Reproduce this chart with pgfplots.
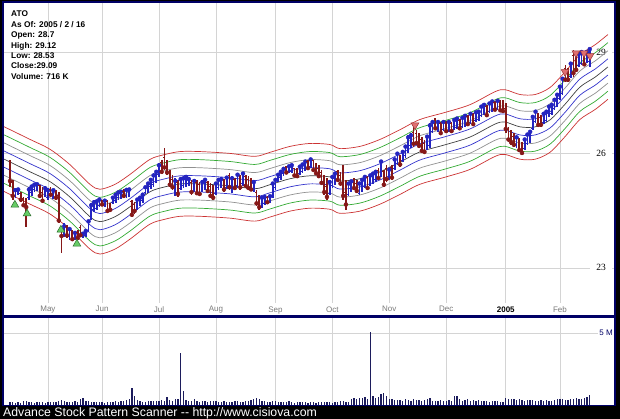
\documentclass[border=0pt]{standalone}
\usepackage{pgfplots}
\pgfplotsset{compat=1.18}
\usepackage{pgfplotstable}
\usepackage{fontspec}
\setmainfont{Liberation Sans}
\newfontfamily\tickserif{Liberation Serif}
\definecolor{navy}{HTML}{000066}
\definecolor{volc}{HTML}{1C1C5C}
\definecolor{upc}{HTML}{2424C0}
\definecolor{dnc}{HTML}{861818}
\definecolor{gridc}{HTML}{D4D4D4}
\definecolor{monthc}{HTML}{7A7A7A}
\definecolor{bandred}{HTML}{CC3333}
\definecolor{bandgreen}{HTML}{33AA33}
\definecolor{bandgray}{HTML}{909090}
\definecolor{bandblue}{HTML}{3333CC}
\definecolor{bandblack}{HTML}{404040}
\definecolor{buyfill}{HTML}{66CC66}
\definecolor{buydraw}{HTML}{2E6E2E}
\definecolor{sellfill}{HTML}{E07070}
\definecolor{selldraw}{HTML}{993333}
\pgfdeclareplotmark{otick}{\pgfpathmoveto{\pgfqpoint{-\pgfplotmarksize}{0pt}}\pgfpathlineto{\pgfqpoint{0pt}{0pt}}\pgfusepathqstroke}
\pgfdeclareplotmark{ctick}{\pgfpathmoveto{\pgfqpoint{0pt}{0pt}}\pgfpathlineto{\pgfqpoint{\pgfplotmarksize}{0pt}}\pgfusepathqstroke}

\pgfplotstableread{
i o h l c
0 25.70 25.83 25.10 25.25
1 25.20 25.28 24.74 24.85
2 24.85 25.06 24.79 25.00
3 24.92 25.06 24.87 25.02
4 24.92 24.96 24.69 24.75
5 24.78 24.82 24.56 24.60
6 24.70 24.80 24.04 24.55
7 24.80 25.09 24.74 25.02
8 24.95 25.15 24.85 25.10
9 25.02 25.20 24.96 25.15
10 25.05 25.20 24.98 25.16
11 25.12 25.15 24.79 24.85
12 24.95 25.09 24.66 24.72
13 24.88 25.12 24.82 25.05
14 24.80 25.06 24.74 25.00
15 25.02 25.09 24.82 24.88
16 24.85 25.04 24.77 25.00
17 24.96 25.01 24.74 24.80
18 24.85 24.96 24.14 24.20
19 24.00 24.04 23.38 23.80
20 23.82 24.14 23.78 24.05
21 24.05 24.09 23.75 23.82
22 23.78 24.04 23.70 23.98
23 23.92 23.96 23.68 23.72
24 23.74 23.93 23.70 23.88
25 23.90 23.96 23.70 23.75
26 24.02 24.09 23.78 23.82
27 23.78 23.88 23.75 23.86
28 23.82 23.96 23.78 23.93
29 23.95 24.22 23.91 24.18
30 24.25 24.66 24.22 24.60
31 24.50 24.74 24.43 24.68
32 24.52 24.74 24.48 24.70
33 24.60 24.79 24.56 24.75
34 24.72 24.74 24.58 24.62
35 24.60 24.77 24.56 24.72
36 24.70 24.74 24.40 24.45
37 24.60 24.66 24.43 24.48
38 24.68 24.85 24.64 24.80
39 24.72 24.93 24.66 24.88
40 24.80 24.98 24.74 24.94
41 24.85 25.01 24.77 24.96
42 24.98 25.04 24.79 24.85
43 24.86 25.06 24.79 25.01
44 24.90 25.06 24.82 25.02
45 24.70 24.74 24.30 24.35
46 24.62 24.69 24.38 24.45
47 24.52 24.79 24.48 24.75
48 24.65 24.85 24.58 24.80
49 24.72 24.93 24.66 24.88
50 24.95 25.12 24.90 25.08
51 25.00 25.23 24.93 25.18
52 25.10 25.33 25.04 25.28
53 25.15 25.47 25.09 25.40
54 25.28 25.55 25.20 25.50
55 25.42 25.75 25.36 25.68
56 25.76 25.83 25.44 25.50
57 25.90 26.17 25.55 25.62
58 25.70 25.83 25.41 25.48
59 25.48 25.55 25.09 25.15
60 25.30 25.41 25.01 25.08
61 24.95 25.33 24.85 25.25
62 25.20 25.28 24.82 24.90
63 25.05 25.36 25.01 25.30
64 25.12 25.39 25.06 25.32
65 25.15 25.41 25.09 25.36
66 25.18 25.36 25.12 25.30
67 25.22 25.28 24.87 24.95
68 25.00 25.31 24.96 25.25
69 25.22 25.28 24.87 24.92
70 25.15 25.23 24.85 24.90
71 25.00 25.28 24.96 25.22
72 25.08 25.33 25.01 25.28
73 25.20 25.25 24.93 24.98
74 25.10 25.20 24.79 24.85
75 24.98 25.15 24.74 24.80
76 24.92 25.23 24.87 25.18
77 25.08 25.33 25.01 25.28
78 25.12 25.36 25.06 25.30
79 25.28 25.31 24.96 25.02
80 25.08 25.39 25.04 25.34
81 25.40 25.47 25.01 25.08
82 25.00 25.39 24.93 25.32
83 25.28 25.33 25.01 25.06
84 25.12 25.47 25.06 25.42
85 25.36 25.41 25.01 25.08
86 25.18 25.50 25.12 25.45
87 25.38 25.41 25.06 25.12
88 25.30 25.39 25.01 25.06
89 25.25 25.33 24.98 25.02
90 25.00 25.28 24.96 25.22
91 24.95 25.01 24.58 24.65
92 24.80 24.87 24.48 24.55
93 24.58 24.85 24.53 24.80
94 24.66 24.87 24.61 24.82
95 24.80 24.85 24.64 24.68
96 24.70 24.87 24.66 24.84
97 24.85 25.23 24.79 25.18
98 25.08 25.33 25.01 25.28
99 25.28 25.47 25.23 25.42
100 25.34 25.55 25.28 25.50
101 25.45 25.63 25.39 25.58
102 25.62 25.66 25.44 25.48
103 25.50 25.69 25.47 25.65
104 25.52 25.72 25.47 25.68
105 25.58 25.61 25.36 25.40
106 25.52 25.61 25.33 25.38
107 25.45 25.69 25.41 25.64
108 25.52 25.75 25.47 25.70
109 25.58 25.83 25.52 25.78
110 25.78 25.83 25.55 25.60
111 25.65 25.89 25.61 25.84
112 25.80 25.83 25.50 25.55
113 25.66 25.75 25.41 25.46
114 25.60 25.69 25.33 25.38
115 25.48 25.55 25.15 25.20
116 25.30 25.41 24.87 24.95
117 25.10 25.33 24.74 24.82
118 24.92 25.28 24.87 25.22
119 25.12 25.41 25.06 25.36
120 25.22 25.50 25.15 25.45
121 25.50 25.55 25.23 25.28
122 25.40 25.50 25.12 25.18
123 25.35 25.69 24.74 24.85
124 24.95 25.28 24.48 24.62
125 24.90 25.23 24.85 25.18
126 25.02 25.28 24.96 25.24
127 25.28 25.33 25.01 25.06
128 25.18 25.28 24.93 24.98
129 24.92 25.23 24.87 25.18
130 25.00 25.33 24.96 25.28
131 25.10 25.41 25.06 25.36
132 25.34 25.39 25.01 25.06
133 25.16 25.44 25.12 25.40
134 25.22 25.50 25.17 25.45
135 25.28 25.55 25.23 25.50
136 25.55 25.61 25.28 25.33
137 25.40 25.83 25.36 25.78
138 25.50 25.55 25.09 25.15
139 25.60 25.69 25.23 25.30
140 25.32 25.61 25.28 25.56
141 25.62 25.69 25.28 25.34
142 25.60 25.89 25.55 25.84
143 25.74 26.05 25.69 26.00
144 25.92 25.97 25.64 25.70
145 25.82 26.11 25.78 26.05
146 25.94 26.25 25.89 26.20
147 26.08 26.53 26.03 26.46
148 26.22 26.59 26.17 26.52
149 26.60 26.76 26.19 26.28
150 26.58 26.67 26.25 26.30
151 26.50 26.59 26.17 26.22
152 26.40 26.47 26.03 26.08
153 26.30 26.39 26.00 26.05
154 26.15 26.53 26.11 26.48
155 26.22 26.87 26.17 26.80
156 26.64 26.96 26.59 26.90
157 26.96 27.02 26.67 26.72
158 26.66 26.96 26.61 26.90
159 26.85 26.90 26.53 26.58
160 26.68 26.96 26.64 26.90
161 26.88 26.93 26.59 26.64
162 26.66 26.96 26.61 26.90
163 26.86 26.90 26.59 26.64
164 26.72 27.02 26.67 26.96
165 26.75 27.05 26.70 27.00
166 26.95 26.99 26.67 26.72
167 26.78 27.08 26.73 27.02
168 26.82 27.13 26.76 27.08
169 27.06 27.11 26.79 26.84
170 26.90 27.19 26.85 27.14
171 27.12 27.16 26.79 26.84
172 26.95 27.22 26.90 27.18
173 26.98 27.25 26.93 27.20
174 27.10 27.40 27.05 27.35
175 27.16 27.45 27.11 27.40
176 27.35 27.40 27.05 27.10
177 27.20 27.48 27.16 27.44
178 27.24 27.54 27.19 27.50
179 27.46 27.51 27.22 27.26
180 27.30 27.57 27.25 27.52
181 27.48 27.54 27.19 27.24
182 27.45 27.54 27.16 27.22
183 27.30 27.45 26.59 26.70
184 26.70 26.76 26.33 26.40
185 26.55 26.67 26.25 26.32
186 26.48 26.59 26.19 26.25
187 26.22 26.53 26.17 26.46
188 26.38 26.45 26.05 26.10
189 26.25 26.33 25.97 26.02
190 26.15 26.45 26.11 26.40
191 26.30 26.59 26.25 26.54
192 26.35 26.67 26.30 26.62
193 26.72 27.11 26.67 27.05
194 26.92 27.25 26.87 27.20
195 27.10 27.16 26.76 26.82
196 27.04 27.11 26.76 26.82
197 26.90 27.19 26.85 27.14
198 26.95 27.25 26.90 27.20
199 27.10 27.40 27.05 27.35
200 27.16 27.45 27.11 27.40
201 27.30 27.60 27.25 27.55
202 27.40 27.75 27.34 27.70
203 27.60 27.99 27.54 27.94
204 27.75 28.23 27.69 28.18
205 28.50 28.60 28.08 28.15
206 28.42 28.51 28.08 28.15
207 28.25 28.69 28.20 28.64
208 28.90 29.06 28.23 28.35
209 28.80 28.90 28.39 28.45
210 28.60 29.00 28.54 28.94
211 28.66 29.06 28.60 29.00
212 28.95 29.00 28.57 28.62
213 28.70 29.06 28.66 29.00
214 28.70 29.12 28.53 29.09
}\ohlc

\pgfplotstableread{
i m
-2.2 25.85
7.4 25.50
14.8 25.23
22.1 24.82
29.5 24.30
33.2 24.17
38.8 24.30
44.3 24.56
51.7 24.96
57.2 25.09
62.8 25.17
70.1 25.17
81.2 25.12
90.4 25.04
96.0 25.15
103.4 25.31
110.7 25.39
118.1 25.36
121.8 25.25
129.2 25.31
136.6 25.50
144.0 25.77
151.3 26.05
160.6 26.25
169.8 26.47
179.0 26.84
182.7 26.90
188.3 26.76
193.8 26.76
199.3 26.96
204.9 27.42
210.4 27.93
216.0 28.23
220.7 28.54
}\ma

\pgfplotstableread{
i v
0 0.18
1 0.22
2 0.15
3 0.20
4 0.17
5 0.25
6 0.30
7 0.20
8 0.18
9 0.16
10 0.20
11 0.22
12 0.19
13 0.17
14 0.21
15 0.20
16 0.18
17 0.24
18 0.30
19 0.35
20 0.28
21 0.22
22 0.20
23 0.18
24 0.25
25 0.23
26 0.45
27 0.50
28 0.30
29 0.25
30 0.20
31 0.18
32 0.20
33 0.22
34 0.20
35 0.17
36 0.19
37 0.23
38 0.20
39 0.25
40 0.22
41 0.28
42 0.30
43 0.35
44 0.40
45 1.15
46 0.63
47 0.32
48 0.30
49 0.22
50 0.20
51 0.25
52 0.28
53 0.30
54 0.26
55 0.30
56 0.35
57 0.30
58 0.56
59 0.38
60 0.30
61 0.45
62 0.40
63 3.60
64 1.00
65 0.35
66 0.30
67 0.30
68 0.45
69 0.25
70 0.22
71 0.30
72 0.28
73 0.20
74 0.25
75 0.30
76 0.28
77 0.22
78 0.20
79 0.25
80 0.18
81 0.22
82 0.20
83 0.25
84 0.28
85 0.20
86 0.22
87 0.30
88 0.25
89 0.35
90 0.45
91 0.50
92 0.40
93 0.30
94 0.25
95 0.22
96 0.20
97 0.28
98 0.25
99 0.20
100 0.18
101 0.22
102 0.20
103 0.25
104 0.18
105 0.15
106 0.20
107 0.22
108 0.18
109 0.20
110 0.15
111 0.18
112 0.20
113 0.15
114 0.20
115 0.18
116 0.22
117 0.20
118 0.18
119 0.15
120 0.20
121 0.22
122 0.25
123 0.30
124 0.20
125 0.18
126 0.45
127 0.50
128 0.45
129 0.48
130 0.50
131 0.55
132 0.45
133 5.05
134 0.60
135 0.50
136 0.55
137 0.75
138 0.85
139 0.60
140 0.45
141 0.40
142 0.35
143 0.38
144 0.35
145 0.30
146 0.42
147 0.35
148 0.30
149 0.40
150 0.35
151 0.38
152 0.30
153 0.35
154 0.45
155 0.50
156 0.30
157 0.25
158 0.28
159 0.32
160 0.30
161 0.28
162 0.35
163 0.30
164 0.62
165 0.60
166 0.45
167 0.30
168 0.35
169 0.40
170 0.30
171 0.32
172 0.28
173 0.35
174 0.30
175 0.25
176 0.28
177 0.22
178 0.25
179 0.30
180 0.28
181 0.22
182 0.20
183 0.48
184 0.45
185 0.42
186 0.40
187 0.35
188 0.45
189 0.38
190 0.30
191 0.35
192 0.32
193 0.38
194 0.30
195 0.28
196 0.35
197 0.30
198 0.32
199 0.28
200 0.30
201 0.35
202 0.40
203 0.45
204 0.42
205 0.38
206 0.35
207 0.40
208 0.45
209 0.48
210 0.42
211 0.45
212 0.50
213 0.55
214 0.72
}\vol

\pgfplotstableread{
i p
1.8 24.61
6.3 24.38
18.8 23.96
24.7 23.60
}\buys

\pgfplotstableread{
i p
149.5 26.81
204.9 28.39
208.9 28.97
211.9 28.97
214.1 28.88
}\sells

\pgfplotsset{
  upbar/.style={x filter/.expression={\thisrow{c}>=\thisrow{o} ? x : nan}},
  dnbar/.style={x filter/.expression={\thisrow{c}<\thisrow{o} ? x : nan}},
}

\begin{document}
\begin{tikzpicture}[x=1pt,y=1pt]
\useasboundingbox (0,0) rectangle (620,419);
\fill[black] (0,0) rectangle (620,419);
\fill[navy] (2,12.5) rectangle (616,418);
\fill[white] (4,104) rectangle (614,416);
\fill[white] (4,14) rectangle (614,101);

\begin{axis}[
  at={(4pt,116pt)}, anchor=south west, scale only axis,
  width=610pt, height=300pt,
  xmin=-2.215, xmax=222.96,
  ymode=log, ymin=22.15, ymax=30.57,
  axis line style={draw=none}, tick style={draw=none},
  xtick={14,34,55,76,98,119,140,161,183,203},
  xticklabels={May,Jun,Jul,Aug,Sep,Oct,Nov,Dec,{\textbf{\color{black}2005}},Feb},
  xticklabel style={font=\fontsize{8}{9}\selectfont, text=monthc},
  ytick={23,26,29}, yticklabels={23,26,29},
  yticklabel pos=right,
  yticklabel style={anchor=east, xshift=-2pt, inner xsep=6pt, inner ysep=1pt, fill=white, font=\tickserif\fontsize{9.5}{10}\selectfont},
  grid=major, major grid style={gridc, line width=0.6pt},
]
\addplot[bandred, line width=0.7pt, smooth, no markers] table[x=i, y expr=\thisrow{m}*1.035381] {\ma};
\addplot[bandgreen, line width=0.7pt, smooth, no markers] table[x=i, y expr=\thisrow{m}*1.026420] {\ma};
\addplot[bandgray, line width=0.7pt, smooth, no markers] table[x=i, y expr=\thisrow{m}*1.017537] {\ma};
\addplot[bandblue, line width=0.7pt, smooth, no markers] table[x=i, y expr=\thisrow{m}*1.008730] {\ma};
\addplot[bandblack, line width=0.7pt, smooth, no markers] table[x=i, y=m] {\ma};
\addplot[bandblue, line width=0.7pt, smooth, no markers] table[x=i, y expr=\thisrow{m}*0.991346] {\ma};
\addplot[bandgray, line width=0.7pt, smooth, no markers] table[x=i, y expr=\thisrow{m}*0.982767] {\ma};
\addplot[bandgreen, line width=0.7pt, smooth, no markers] table[x=i, y expr=\thisrow{m}*0.974262] {\ma};
\addplot[bandred, line width=0.7pt, smooth, no markers] table[x=i, y expr=\thisrow{m}*0.965831] {\ma};

\addplot[upc, only marks, mark=none, upbar,
  error bars/.cd, y dir=both, y explicit, error mark=none, error bar style={upc, line width=1.7pt}]
  table[x=i, y=c, y error plus expr=\thisrow{h}-\thisrow{c}, y error minus expr=\thisrow{c}-\thisrow{l}] {\ohlc};
\addplot[upc, line width=0.8pt, only marks, mark=otick, mark size=1.5pt, upbar] table[x=i, y=o] {\ohlc};
\addplot[upc, line width=0.8pt, only marks, mark=ctick, mark size=1.5pt, upbar] table[x=i, y=c] {\ohlc};

\addplot[dnc, only marks, mark=none, dnbar,
  error bars/.cd, y dir=both, y explicit, error mark=none, error bar style={dnc, line width=1.7pt}]
  table[x=i, y=c, y error plus expr=\thisrow{h}-\thisrow{c}, y error minus expr=\thisrow{c}-\thisrow{l}] {\ohlc};
\addplot[dnc, line width=0.8pt, only marks, mark=otick, mark size=1.5pt, dnbar] table[x=i, y=o] {\ohlc};
\addplot[dnc, line width=0.8pt, only marks, mark=ctick, mark size=1.5pt, dnbar] table[x=i, y=c] {\ohlc};

\addplot[only marks, mark=triangle*, mark size=4.5pt, mark options={fill=buyfill, draw=buydraw, line width=0.5pt}] table[x=i, y=p] {\buys};
\addplot[only marks, mark=triangle*, mark size=4.5pt, mark options={fill=sellfill, draw=selldraw, rotate=180, line width=0.5pt}] table[x=i, y=p] {\sells};
\end{axis}

\begin{axis}[
  at={(4pt,14pt)}, anchor=south west, scale only axis,
  width=610pt, height=87pt,
  xmin=-2.215, xmax=222.96, ymin=0, ymax=6.04,
  axis line style={draw=none}, tick style={draw=none},
  xtick={14,34,55,76,98,119,140,161,183,203}, xticklabels={},
  ytick={5}, yticklabels={5 M}, yticklabel pos=right,
  yticklabel style={anchor=east, xshift=0pt, inner xsep=1pt, inner ysep=1pt, fill=white, font=\fontsize{8}{9}\selectfont, text=navy},
  grid=major, major grid style={gridc, line width=0.6pt},
]
\addplot[ycomb, volc, line width=1.3pt, no markers] table[x=i, y=v] {\vol};
\end{axis}

\begin{scope}[font=\fontsize{8.3}{9}\selectfont\bfseries]
\node[anchor=base west, inner sep=0] at (11,402.3) {ATO};
\node[anchor=base west, inner sep=0] at (11,391.8) {As Of: 2005 / 2 / 16};
\node[anchor=base west, inner sep=0] at (11,381.4) {Open: 28.7};
\node[anchor=base west, inner sep=0] at (11,370.9) {High: 29.12};
\node[anchor=base west, inner sep=0] at (11,360.5) {Low: 28.53};
\node[anchor=base west, inner sep=0] at (11,350.0) {Close:29.09};
\node[anchor=base west, inner sep=0] at (11,339.6) {Volume: 716 K};
\end{scope}

\node[anchor=base west, text=white, font=\fontsize{12.3}{13}\selectfont, inner sep=0] at (3,2.6) {Advance Stock Pattern Scanner {-}{-} http://www.cisiova.com};
\end{tikzpicture}
\end{document}
